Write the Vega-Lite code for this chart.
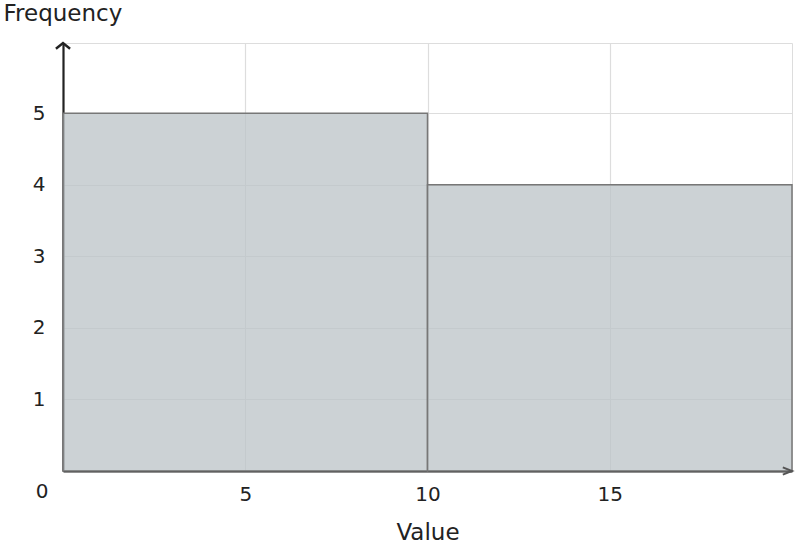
{
  "$schema": "https://vega.github.io/schema/vega-lite/v6.json",
  "width": 729,
  "height": 428,
  "autosize": {"type": "none"},
  "padding": {"left": 63, "top": 43, "right": 4, "bottom": 77},
  "data": {
    "values": [
      {"bin_start": 0, "bin_end": 10, "count": 5},
      {"bin_start": 10, "bin_end": 20, "count": 4}
    ]
  },
  "layer": [
    {
      "mark": {"type": "bar", "fill": "#bcc5c9", "fillOpacity": 0.77, "stroke": "#777777", "strokeWidth": 1.5},
      "encoding": {
        "x": {
          "field": "bin_start", "type": "quantitative",
          "scale": {"domain": [0, 20], "nice": false, "zero": false},
          "axis": {
            "values": [5, 10, 15], "title": "Value", "grid": true, "ticks": false,
            "labelPadding": 13, "titlePadding": 17
          }
        },
        "x2": {"field": "bin_end"},
        "y": {
          "field": "count", "type": "quantitative",
          "scale": {"domain": [0, 5.98], "nice": false},
          "axis": {
            "values": [1, 2, 3, 4, 5], "format": "d", "title": "Frequency", "grid": true, "ticks": false,
            "labelPadding": 18, "titleAngle": 0, "titleAlign": "left", "titleBaseline": "middle",
            "titleX": -60, "titleY": -30
          }
        },
        "y2": {"datum": 0}
      }
    },
    {
      "data": {"values": [{}]},
      "mark": {"type": "text", "dx": -21, "dy": 21, "fontSize": 20, "font": "DejaVu Sans", "color": "#222222"},
      "encoding": {"x": {"datum": 0}, "y": {"datum": 0}, "text": {"value": "0"}}
    },
    {
      "data": {"values": [{}]},
      "mark": {"type": "point", "shape": "M-1,0.8L0,0L1,0.8", "filled": false, "size": 200, "stroke": "#222222", "strokeWidth": 2.5, "opacity": 1},
      "encoding": {"x": {"datum": 0}, "y": {"datum": 5.98}}
    },
    {
      "data": {"values": [{}]},
      "mark": {"type": "point", "shape": "M-1.5,-0.6L0,0L-1.5,0.6", "filled": false, "size": 150, "stroke": "#555555", "strokeWidth": 2, "opacity": 1},
      "encoding": {"x": {"datum": 20}, "y": {"datum": 0}}
    }
  ],
  "config": {
    "font": "DejaVu Sans",
    "view": {"stroke": "#dddddd", "strokeWidth": 1},
    "axis": {
      "domainColor": "#222222",
      "domainWidth": 2.2,
      "gridColor": "#dddddd",
      "gridWidth": 1.2,
      "labelFont": "DejaVu Sans",
      "labelFontSize": 20,
      "labelColor": "#222222",
      "titleFont": "DejaVu Sans",
      "titleFontSize": 23,
      "titleFontWeight": "normal",
      "titleColor": "#222222"
    }
  }
}
